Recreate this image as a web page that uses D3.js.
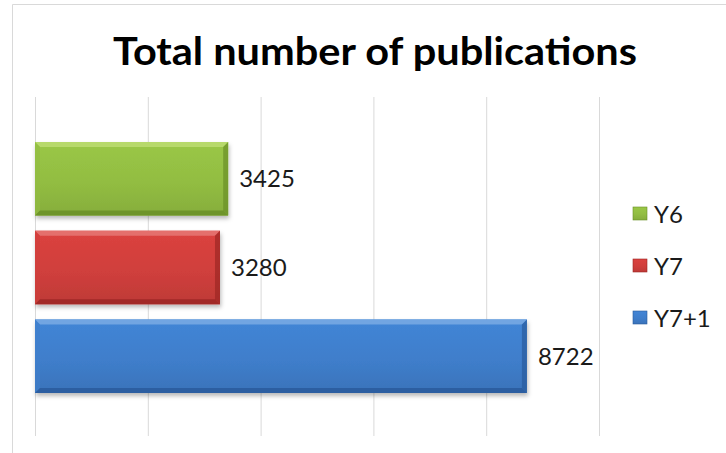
<!DOCTYPE html>
<html>
<head>
<meta charset="utf-8">
<script src="https://cdn.jsdelivr.net/npm/d3@7"></script>
<style>
  html, body { margin: 0; padding: 0; background: #fff; }
  svg { display: block; }
</style>
</head>
<body>
<svg id="chart" width="726" height="453"></svg>
<script>
// Chart data
const title = "Total number of publications";
const seriesNames = ["Y6", "Y7", "Y7+1"];
const seriesValues = [3425, 3280, 8722];
const xTicks = [0, 2000, 4000, 6000, 8000, 10000];
const xMax = 10000;

// Colour for each series: [highlight, main, shade]
const palette = {
  "Y6":   ["#bcdc72", "#92bd42", "#6a8f27"],
  "Y7":   ["#e57774", "#d03f3c", "#9c2724"],
  "Y7+1": ["#7aaae4", "#3f7ecb", "#2a5b9c"]
};

const svg = d3.select("#chart");
const W = 726, H = 453;
const plot = { left: 35, right: 599, top: 97, bottom: 436 };

// Chart frame (top and left edges of the chart area)
svg.append("path")
  .attr("d", `M12.5,${H} L12.5,4.5 L${W},4.5`)
  .attr("fill", "none")
  .attr("stroke", "#d9d9d9")
  .attr("stroke-width", 1);

// Title
svg.append("text")
  .attr("x", 375)
  .attr("y", 65)
  .attr("text-anchor", "middle")
  .attr("font-family", "Lato, 'Open Sans', sans-serif")
  .attr("font-weight", "bold")
  .attr("font-size", 39)
  .attr("textLength", 524)
  .attr("lengthAdjust", "spacingAndGlyphs")
  .attr("fill", "#000")
  .text(title);

const x = d3.scaleLinear().domain([0, xMax]).range([plot.left, plot.right]);
const y = d3.scaleBand().domain(seriesNames)
  .range([plot.top + 45, plot.bottom - 43])
  .paddingInner(0.17);

// Vertical gridlines
const grid = svg.append("g")
  .attr("transform", `translate(0,${plot.bottom})`)
  .call(d3.axisBottom(x).tickValues(xTicks).tickSize(-(plot.bottom - plot.top)).tickFormat(""));
grid.select(".domain").remove();
grid.selectAll(".tick line").attr("stroke", "#d9d9d9").attr("stroke-width", 1);

// Gradients and shadow
const defs = svg.append("defs");
seriesNames.forEach((name, i) => {
  const [hi, mid, lo] = palette[name];
  const g = defs.append("linearGradient")
    .attr("id", "grad" + i).attr("x1", 0).attr("y1", 0).attr("x2", 0).attr("y2", 1);
  g.append("stop").attr("offset", "0%").attr("stop-color", d3.color(mid).brighter(0.15));
  g.append("stop").attr("offset", "55%").attr("stop-color", mid);
  g.append("stop").attr("offset", "100%").attr("stop-color", d3.color(mid).darker(0.25));
});
const f = defs.append("filter").attr("id", "shadow")
  .attr("x", "-5%").attr("y", "-20%").attr("width", "115%").attr("height", "150%");
f.append("feDropShadow").attr("dx", 1).attr("dy", 3).attr("stdDeviation", 2)
  .attr("flood-color", "#000").attr("flood-opacity", 0.28);

// Bars with bevelled edges
const bev = 5;
const bars = svg.append("g").selectAll("g.bar")
  .data(seriesNames.map((n, i) => ({ name: n, value: seriesValues[i], i })))
  .join("g").attr("class", "bar");

bars.append("rect")
  .attr("x", x(0))
  .attr("y", d => y(d.name))
  .attr("width", d => x(d.value) - x(0))
  .attr("height", y.bandwidth())
  .attr("fill", d => `url(#grad${d.i})`)
  .attr("filter", "url(#shadow)");

// top highlight
bars.append("path")
  .attr("d", d => {
    const x0 = x(0), x1 = x(d.value), y0 = y(d.name);
    return `M${x0},${y0} L${x1},${y0} L${x1 - bev},${y0 + bev} L${x0 + bev},${y0 + bev} Z`;
  })
  .attr("fill", d => palette[d.name][0]).attr("opacity", 0.85);
// left edge
bars.append("path")
  .attr("d", d => {
    const x0 = x(0), y0 = y(d.name), y1 = y0 + y.bandwidth();
    return `M${x0},${y0} L${x0 + bev},${y0 + bev} L${x0 + bev},${y1 - bev} L${x0},${y1} Z`;
  })
  .attr("fill", d => palette[d.name][1]).attr("opacity", 0.6);
// right shade
bars.append("path")
  .attr("d", d => {
    const x1 = x(d.value), y0 = y(d.name), y1 = y0 + y.bandwidth();
    return `M${x1},${y0} L${x1},${y1} L${x1 - bev},${y1 - bev} L${x1 - bev},${y0 + bev} Z`;
  })
  .attr("fill", d => palette[d.name][2]).attr("opacity", 0.7);
// bottom shade
bars.append("path")
  .attr("d", d => {
    const x0 = x(0), x1 = x(d.value), y1 = y(d.name) + y.bandwidth();
    return `M${x0},${y1} L${x1},${y1} L${x1 - bev},${y1 - bev} L${x0 + bev},${y1 - bev} Z`;
  })
  .attr("fill", d => palette[d.name][2]).attr("opacity", 0.85);

// Value labels
bars.append("text")
  .attr("x", d => x(d.value) + 11)
  .attr("y", d => y(d.name) + y.bandwidth() / 2)
  .attr("dy", "0.36em")
  .attr("font-family", "Lato, 'Open Sans', sans-serif")
  .attr("font-size", 24)
  .attr("fill", "#1a1a1a")
  .text(d => d.value);

// Legend
const legendY = [214, 266, 318];
const legend = svg.append("g").selectAll("g")
  .data(seriesNames)
  .join("g")
  .attr("transform", (d, i) => `translate(633,${legendY[i]})`);
legend.append("rect")
  .attr("x", 0).attr("y", -7).attr("width", 14).attr("height", 13)
  .attr("fill", (d, i) => `url(#grad${i})`)
  .attr("stroke", d => palette[d][2]).attr("stroke-width", 0.6);
legend.append("text")
  .attr("x", 21).attr("y", 0).attr("dy", "0.36em")
  .attr("font-family", "Lato, 'Open Sans', sans-serif")
  .attr("font-size", 24)
  .attr("fill", "#1a1a1a")
  .text(d => d);
</script>
</body>
</html>
